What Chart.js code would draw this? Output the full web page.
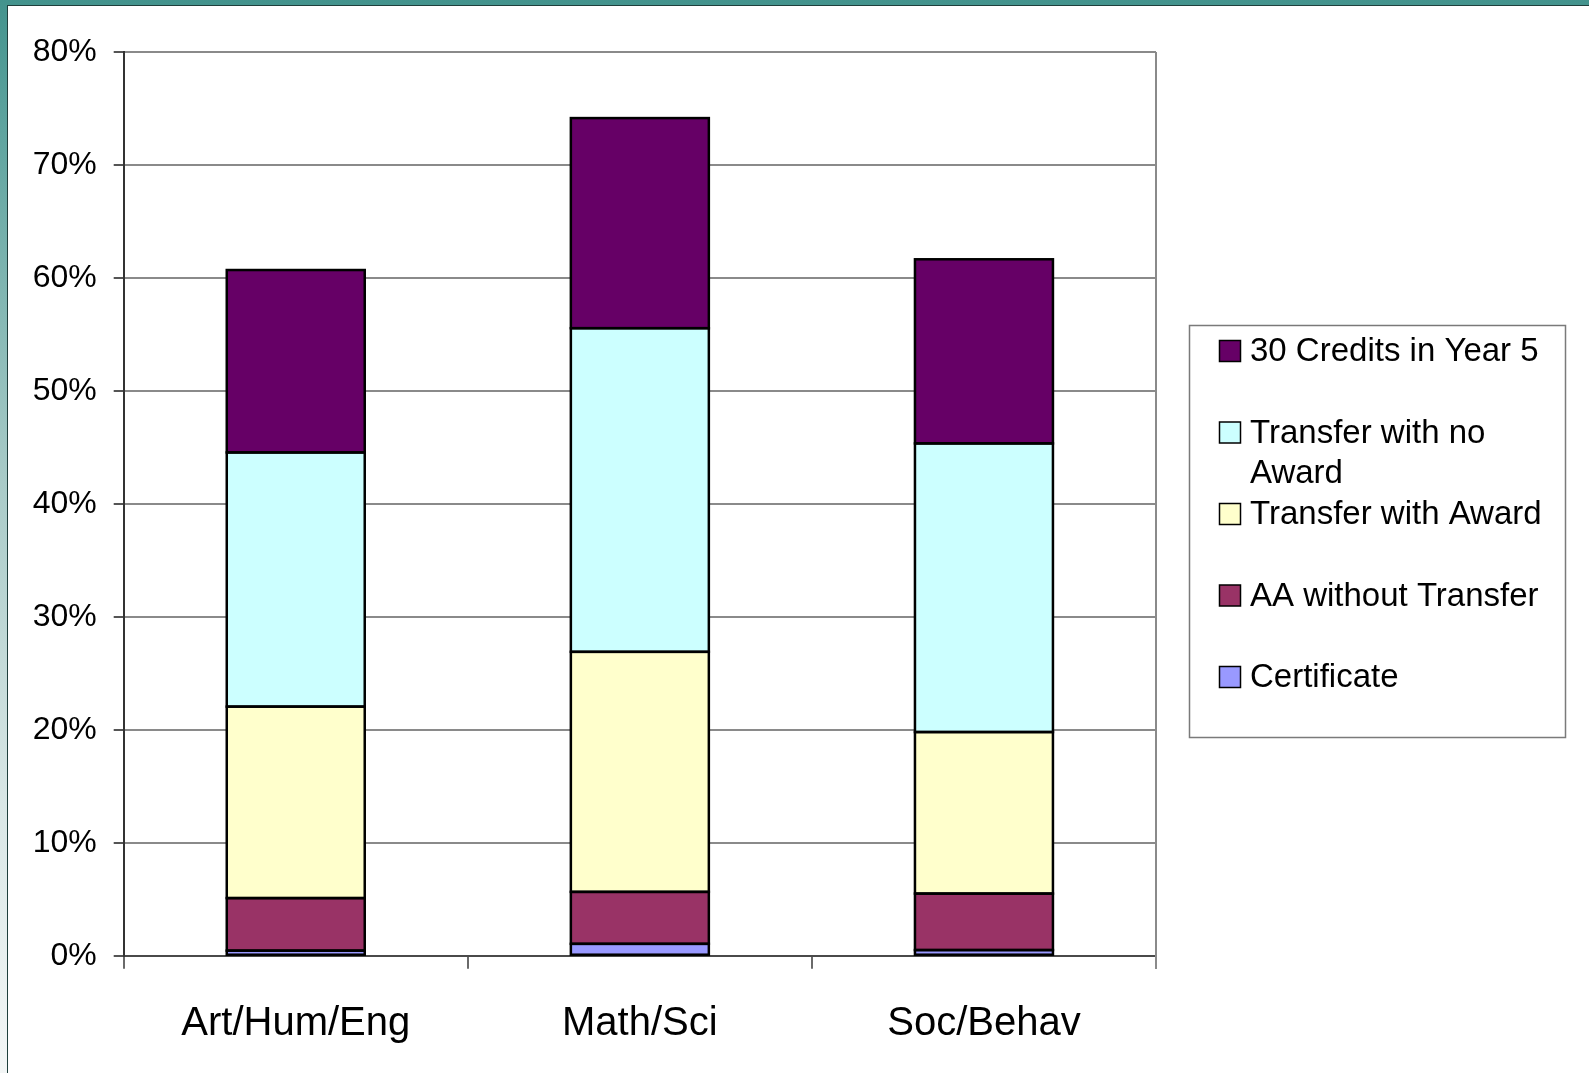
<!DOCTYPE html>
<html>
<head>
<meta charset="utf-8">
<script src="https://cdn.jsdelivr.net/npm/chart.js@4/dist/chart.umd.min.js"></script>
<style>
  html, body { margin: 0; padding: 0; }
  body {
    width: 1589px; height: 1073px; overflow: hidden; position: relative;
    background: linear-gradient(to bottom, #43938d 0%, #5ea49f 12%, #a9cbc8 45%, #d9e7e6 75%, #f3f6f6 100%);
  }
  #frame {
    position: absolute; left: 7px; top: 5px; right: 0; bottom: 0;
    background: #ffffff;
    border-left: 1px solid #1f3f3c; border-top: 1px solid #1f3f3c;
  }
  #chart { position: absolute; left: 0; top: 0; }
</style>
</head>
<body>
<div id="frame"><canvas id="chart" width="1581" height="1067"></canvas></div>
<script>
// Share of students by outcome, per program area (percent)
const categories = ['Art/Hum/Eng', 'Math/Sci', 'Soc/Behav'];
const certificate   = [0.45, 1.05, 0.5];
const aaNoTransfer  = [4.65, 4.6, 5.0];
const transferAward = [16.95, 21.25, 14.3];
const transferNoAward = [22.5, 28.65, 25.55];
const credits30Year5 = [16.15, 18.6, 16.3];
const yTicks = [0, 10, 20, 30, 40, 50, 60, 70, 80];

const FONT = "'Liberation Sans', Arial, sans-serif";

// Black outline around every stacked segment, centred on the segment edges
const segmentOutline = {
  id: 'segmentOutline',
  afterDatasetsDraw(chart) {
    const ctx = chart.ctx;
    ctx.save();
    ctx.strokeStyle = '#000';
    ctx.lineWidth = 2.5;
    chart.data.datasets.forEach((ds, i) => {
      const meta = chart.getDatasetMeta(i);
      meta.data.forEach(el => {
        const p = el.getProps(['x', 'y', 'base', 'width'], true);
        const left = p.x - p.width / 2;
        const top = Math.min(p.y, p.base);
        const h = Math.abs(p.base - p.y);
        ctx.strokeRect(left, top, p.width, h);
      });
    });
    ctx.restore();
  }
};

// Boxed legend on the right, top entry = top segment of the stack
const boxLegend = {
  id: 'boxLegend',
  afterDraw(chart) {
    const ctx = chart.ctx;
    const left = 1181.5, top = 319.5, right = 1557.5, bottom = 731.5;
    ctx.save();
    ctx.strokeStyle = '#7a7a7a';
    ctx.lineWidth = 1.5;
    ctx.strokeRect(left, top, right - left, bottom - top);
    ctx.font = '33px ' + FONT;
    ctx.textBaseline = 'middle';
    ctx.textAlign = 'left';
    const textX = 1242, swX = 1211.5, sw = 21;
    const maxW = right - textX - 4;
    const items = chart.data.datasets.slice().reverse();
    items.forEach((ds, i) => {
      const cy = 345 + i * 81.5;
      ctx.fillStyle = ds.backgroundColor;
      ctx.fillRect(swX, cy - sw / 2, sw, sw);
      ctx.strokeStyle = '#000';
      ctx.lineWidth = 1.5;
      ctx.strokeRect(swX, cy - sw / 2, sw, sw);
      // word wrap inside the box
      const words = ds.label.split(' ');
      const lines = [];
      let cur = '';
      words.forEach(w => {
        const t = cur ? cur + ' ' + w : w;
        if (ctx.measureText(t).width > maxW && cur) { lines.push(cur); cur = w; }
        else cur = t;
      });
      if (cur) lines.push(cur);
      ctx.fillStyle = '#000';
      lines.forEach((ln, k) => ctx.fillText(ln, textX, cy + 1 + k * 40));
    });
    ctx.restore();
  }
};

// Grey right edge of the plot frame, running down to the tick marks
const plotEdge = {
  id: 'plotEdge',
  beforeDatasetsDraw(chart) {
    const { ctx, chartArea } = chart;
    ctx.save();
    ctx.strokeStyle = '#8a8a8a';
    ctx.lineWidth = 2;
    ctx.beginPath();
    ctx.moveTo(chartArea.right, chartArea.top);
    ctx.lineTo(chartArea.right, chartArea.bottom + 13);
    ctx.stroke();
    ctx.restore();
  }
};

const seg = (label, data, color) => ({
  label, data,
  backgroundColor: color,
  borderWidth: 0,
  categoryPercentage: 1.0,
  barPercentage: 0.401
});

new Chart(document.getElementById('chart'), {
  type: 'bar',
  data: {
    labels: categories,
    datasets: [
      seg('Certificate', certificate, '#9999FF'),
      seg('AA without Transfer', aaNoTransfer, '#993366'),
      seg('Transfer with Award', transferAward, '#FFFFCC'),
      seg('Transfer with no Award', transferNoAward, '#CCFFFF'),
      seg('30 Credits in Year 5', credits30Year5, '#660066')
    ]
  },
  options: {
    responsive: false,
    animation: false,
    devicePixelRatio: 1,
    layout: { padding: { left: 0, right: 433, top: 46, bottom: 0 } },
    plugins: { legend: { display: false }, tooltip: { enabled: false } },
    scales: {
      x: {
        stacked: true,
        offset: true,
        grid: { display: true, drawOnChartArea: false, drawTicks: true, tickLength: 13, offset: true, color: '#6a6a6a', lineWidth: 2 },
        border: { display: true, color: '#4a4a4a', width: 2 },
        ticks: { color: '#000', font: { family: FONT, size: 40 }, padding: 31, maxRotation: 0 },
        afterFit(scale) { scale.height = 117.3; }
      },
      y: {
        stacked: true,
        min: 0, max: 80,
        afterBuildTicks(scale) { scale.ticks = yTicks.map(v => ({ value: v })); },
        grid: { color: '#8a8a8a', lineWidth: 2, drawTicks: true, tickLength: 10, tickColor: '#555', tickWidth: 2 },
        border: { display: true, color: '#333', width: 2 },
        ticks: { color: '#000', font: { family: FONT, size: 32 }, padding: 17, callback: v => v + '%' },
        afterFit(scale) { scale.width = 115.7; }
      }
    }
  },
  plugins: [plotEdge, segmentOutline, boxLegend]
});
</script>
</body>
</html>
